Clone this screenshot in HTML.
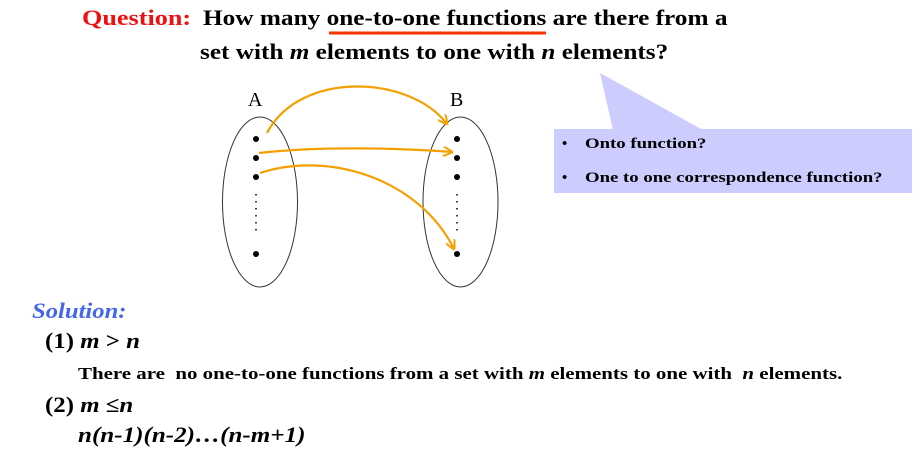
<!DOCTYPE html>
<html><head><meta charset="utf-8"><style>
html,body{margin:0;padding:0;background:#fff;}
body{position:relative;width:920px;height:463px;overflow:hidden;}
svg{display:block;position:absolute;left:0;top:0;}
.t{position:absolute;font-family:"Liberation Serif","Times New Roman",serif;font-weight:bold;white-space:nowrap;line-height:1;color:#000;transform-origin:0 0;}
i{font-style:italic;}
</style></head><body>
<svg width="920" height="463" viewBox="0 0 920 463" xmlns="http://www.w3.org/2000/svg">
<line x1="329" y1="33" x2="546" y2="33" stroke="#ff3300" stroke-width="3"/>
<polygon points="600,73 613,130 703,130" fill="#ccccff"/>
<rect x="554" y="129" width="358" height="64" fill="#ccccff"/>
<text x="248" y="106" font-size="20" font-family="Liberation Serif, serif" fill="#000">A</text>
<text x="450" y="106" font-size="20" font-family="Liberation Serif, serif" fill="#000">B</text>
<ellipse cx="260" cy="202" rx="37.5" ry="85" fill="none" stroke="#333" stroke-width="1"/>
<ellipse cx="460.5" cy="202" rx="37.5" ry="85" fill="none" stroke="#333" stroke-width="1"/>
<g fill="#000">
<circle cx="256" cy="139" r="3"/><circle cx="256" cy="158" r="3"/><circle cx="256" cy="177" r="3"/><circle cx="256" cy="254" r="3"/>
<circle cx="457" cy="139" r="3"/><circle cx="457" cy="158" r="3"/><circle cx="457" cy="177" r="3"/><circle cx="457" cy="254" r="3"/>
</g>
<line x1="256" y1="194" x2="256" y2="236" stroke="#000" stroke-width="1.5" stroke-dasharray="1.5,5.5"/>
<line x1="457" y1="194" x2="457" y2="236" stroke="#000" stroke-width="1.5" stroke-dasharray="1.5,5.5"/>
<defs><marker id="ah" markerWidth="10" markerHeight="10" refX="9" refY="5" orient="auto" markerUnits="userSpaceOnUse"><path d="M0,0 L10,5 L0,10" fill="none" stroke="#f5a000" stroke-width="2"/></marker></defs>
<g fill="none" stroke="#f5a000" stroke-width="2.2" marker-end="url(#ah)">
<path d="M267,133 C300,70 410,75 447,124"/>
<path d="M259,153 C320,146 400,148 452,152"/>
<path d="M260,173 C330,150 420,180 454,249"/>
</g>
</svg>
<div class="t" style="left:82px;top:7px;font-size:22px;color:#ee1111;transform:scaleX(1.19)">Question:</div>
<div class="t" style="left:203px;top:7px;font-size:22px;transform:scaleX(1.149)">How many one-to-one functions are there from a</div>
<div class="t" style="left:200px;top:41px;font-size:22px;transform:scaleX(1.147)">set with <i>m</i> elements to one with <i>n</i> elements?</div>
<div class="t" style="left:562px;top:137px;font-size:15px;">•</div>
<div class="t" style="left:585px;top:137px;font-size:15px;transform:scaleX(1.25)">Onto function?</div>
<div class="t" style="left:562px;top:171px;font-size:15px;">•</div>
<div class="t" style="left:585px;top:171px;font-size:15px;transform:scaleX(1.25)">One to one correspondence function?</div>
<div class="t" style="left:32px;top:300px;font-size:22px;color:#4466ee;font-style:italic;transform:scaleX(1.12)">Solution:</div>
<div class="t" style="left:45px;top:330px;font-size:22px;transform:scaleX(1.13)">(1) <i>m</i> &gt; <i>n</i></div>
<div class="t" style="left:78px;top:365px;font-size:17px;transform:scaleX(1.23)">There are&nbsp; no one-to-one functions from a set with <i>m</i> elements to one with&nbsp; <i>n</i> elements.</div>
<div class="t" style="left:45px;top:394px;font-size:22px;transform:scaleX(1.13)">(2) <i>m</i> ≤<i>n</i></div>
<div class="t" style="left:78px;top:424px;font-size:22px;font-style:italic;transform:scaleX(1.14)">n(n-1)(n-2)…(n-m+1)</div>
</body></html>
